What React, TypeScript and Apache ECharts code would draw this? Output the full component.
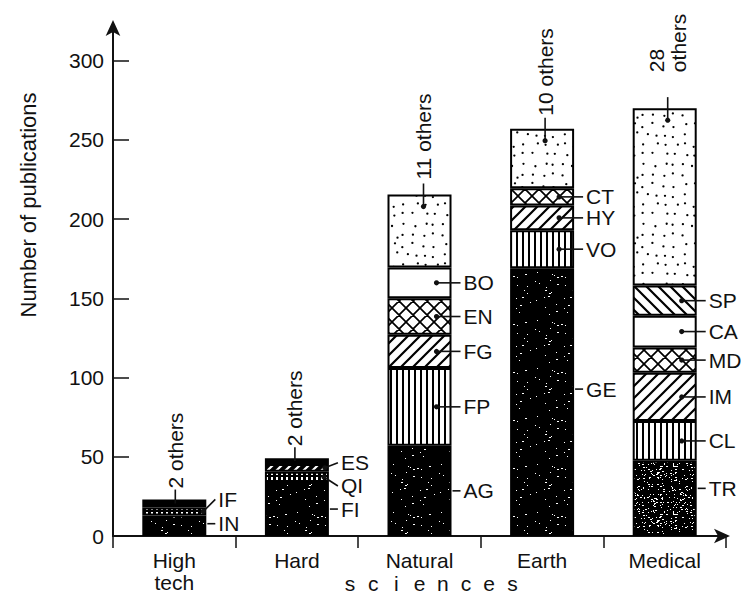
import React, { useEffect, useRef } from 'react';
import * as echarts from 'echarts';

// ---------- data ----------
const categories = ['High\ntech', 'Hard', 'Natural', 'Earth', 'Medical'];
const yTicks = [0, 50, 100, 150, 200, 250, 300];

const highTechCodes = ['IN', 'IF', '2 others'];
const highTechValues = [13, 5, 5];
const hardCodes = ['FI', 'QI', 'ES', '2 others'];
const hardValues = [34, 6.5, 5, 3.5];
const naturalCodes = ['AG', 'FP', 'FG', 'EN', 'BO', '11 others'];
const naturalValues = [57, 49, 21, 23, 19.5, 46];
const earthCodes = ['GE', 'VO', 'HY', 'CT', '10 others'];
const earthValues = [169, 24, 15.5, 11, 37.5];
const medicalCodes = ['TR', 'CL', 'IM', 'MD', 'CA', 'SP', '28\nothers'];
const medicalValues = [47.5, 25, 30.5, 16, 20, 19, 112];

const xAxisTitle = 'sciences';
const yAxisTitle = 'Number of publications';

// ---------- style / layout ----------
const FONT = '"Liberation Sans", Arial, sans-serif';
const INK = '#111';
const BAR_W = 64;
const PATTERN_OF: Record<string, string> = {
  IN: 'stipple', FI: 'stipple', AG: 'stipple', GE: 'stipple', TR: 'stippleLight',
  IF: 'vertDark', QI: 'vertDark', ES: 'diagDark',
  FP: 'vert', VO: 'vert', CL: 'vert',
  FG: 'diag', HY: 'diag', IM: 'diag',
  EN: 'cross', CT: 'cross', MD: 'cross',
  BO: 'white', CA: 'white', SP: 'back',
};
const LABEL_DY: Record<string, number> = { IF: -12, IN: -2, ES: -5, QI: 9, GE: -13, TR: -10 };
const DOT_INSET: Record<string, number> = { IF: 3, QI: 5, ES: 4 };
const TOP_GAP = [11, 12, 15, 13, 36];
const TOP_DX = [1, -2, 4, 3, 3];

function lcg(seed: number) {
  let s = seed;
  return () => {
    s = (s * 1664525 + 1013904223) % 4294967296;
    return s / 4294967296;
  };
}

function tile(w: number, h: number, draw: (ctx: CanvasRenderingContext2D) => void): any {
  const c = document.createElement('canvas');
  c.width = w;
  c.height = h;
  const ctx = c.getContext('2d') as CanvasRenderingContext2D;
  draw(ctx);
  return { image: c.toDataURL(), repeat: 'repeat', imageWidth: w, imageHeight: h };
}

function makePatterns(): Record<string, any> {
  const stipple = (seed: number, count: number) =>
    tile(48, 48, (ctx) => {
      ctx.fillStyle = '#000';
      ctx.fillRect(0, 0, 48, 48);
      ctx.fillStyle = '#fff';
      const r = lcg(seed);
      for (let k = 0; k < count; k++) {
        const x = Math.floor(r() * 48);
        const y = Math.floor(r() * 48);
        ctx.fillRect(x, y, r() < 0.3 ? 2 : 1, 1);
      }
    });
  const lines = (w: number, bg: string, fg: string, lw: number, dir: number) =>
    tile(w, w, (ctx) => {
      ctx.fillStyle = bg;
      ctx.fillRect(0, 0, w, w);
      ctx.strokeStyle = fg;
      ctx.lineWidth = lw;
      ctx.beginPath();
      for (const o of [-w, 0, w]) {
        if (dir > 0) {
          ctx.moveTo(o - 2, w + 2);
          ctx.lineTo(o + w + 2, -2);
        } else {
          ctx.moveTo(o - 2, -2);
          ctx.lineTo(o + w + 2, w + 2);
        }
      }
      ctx.stroke();
    });
  return {
    white: '#ffffff',
    stipple: stipple(7, 32),
    stippleLight: stipple(11, 200),
    vert: tile(6, 6, (ctx) => {
      ctx.fillStyle = '#fff';
      ctx.fillRect(0, 0, 6, 6);
      ctx.fillStyle = '#000';
      ctx.fillRect(0, 0, 2, 6);
    }),
    vertDark: tile(5, 7, (ctx) => {
      ctx.fillStyle = '#000';
      ctx.fillRect(0, 0, 5, 7);
      ctx.fillStyle = '#fff';
      ctx.fillRect(1, 1, 2, 5);
    }),
    diag: lines(12, '#fff', '#000', 2.2, 1),
    back: lines(12, '#fff', '#000', 2.2, -1),
    diagDark: lines(9, '#000', '#fff', 2.2, 1),
    cross: tile(14, 14, (ctx) => {
      ctx.fillStyle = '#fff';
      ctx.fillRect(0, 0, 14, 14);
      ctx.strokeStyle = '#000';
      ctx.lineWidth = 1.7;
      ctx.beginPath();
      for (const o of [-14, 0, 14]) {
        ctx.moveTo(o - 2, 16);
        ctx.lineTo(o + 16, -2);
        ctx.moveTo(o - 2, -2);
        ctx.lineTo(o + 16, 16);
      }
      ctx.stroke();
    }),
    dashDark: tile(9, 7, (ctx) => {
      ctx.fillStyle = '#000';
      ctx.fillRect(0, 0, 9, 7);
      ctx.fillStyle = '#fff';
      ctx.fillRect(1, 2, 5, 2);
    }),
    dots: tile(60, 60, (ctx) => {
      ctx.fillStyle = '#fff';
      ctx.fillRect(0, 0, 60, 60);
      ctx.fillStyle = '#000';
      const r = lcg(5);
      // jittered grid: even but irregular stipple
      for (let gy = 0; gy < 6; gy++) {
        for (let gx = 0; gx < 6; gx++) {
          const x = gx * 10 + 2 + r() * 6;
          const y = gy * 10 + 2 + r() * 6;
          ctx.beginPath();
          ctx.arc(x, y, 1.15, 0, Math.PI * 2);
          ctx.fill();
        }
      }
    }),
  };
}

export default function App() {
  const ref = useRef<HTMLDivElement>(null);

  useEffect(() => {
    document.body.style.margin = '0';
    if (!ref.current) return;
    const chart = echarts.init(ref.current, undefined, { renderer: 'svg' });
    const P = makePatterns();

    const groups = [
      { codes: highTechCodes, values: highTechValues },
      { codes: hardCodes, values: hardValues },
      { codes: naturalCodes, values: naturalValues },
      { codes: earthCodes, values: earthValues },
      { codes: medicalCodes, values: medicalValues },
    ];
    const maxLayers = Math.max(...groups.map((g) => g.values.length));

    const patternFor = (code: string, cat: number) => {
      if (code.indexOf('others') >= 0) return cat < 2 ? P.dashDark : P.dots;
      return P[PATTERN_OF[code]] || '#fff';
    };

    const barSeries: any[] = [];
    for (let j = 0; j < maxLayers; j++) {
      barSeries.push({
        type: 'bar',
        stack: 'total',
        barWidth: BAR_W,
        itemStyle: { borderColor: '#000', borderWidth: 2 },
        data: groups.map((g, i) =>
          j < g.values.length
            ? { value: g.values[j], itemStyle: { color: patternFor(g.codes[j], i), borderColor: '#000', borderWidth: 2 } }
            : '-'
        ),
      });
    }

    const sideItems: any[] = [];
    const topItems: any[] = [];
    groups.forEach((g, i) => {
      let bottom = 0;
      g.values.forEach((v, j) => {
        const code = g.codes[j];
        if (j < g.values.length - 1) {
          sideItems.push({ cat: i, mid: bottom + v / 2, code, solid: PATTERN_OF[code].indexOf('stipple') === 0 });
        } else {
          topItems.push({ cat: i, total: bottom + v, last: v, code });
        }
        bottom += v;
      });
    });

    const textStyle = (text: string, align: string) => ({
      text,
      fontSize: 21,
      fontFamily: FONT,
      fill: INK,
      align,
      verticalAlign: 'middle',
      lineHeight: 22,
    });

    const sideSeries = {
      type: 'custom',
      coordinateSystem: 'cartesian2d',
      clip: false,
      z: 5,
      silent: true,
      data: sideItems.map((it) => [it.cat, it.mid]),
      renderItem: (params: any, api: any) => {
        const it = sideItems[params.dataIndex];
        const p = api.coord([it.cat, it.mid]);
        const xr = p[0] + BAR_W / 2;
        const ly = p[1] + (LABEL_DY[it.code] || 0);
        const children: any[] = [];
        if (it.solid) {
          children.push({ type: 'line', shape: { x1: xr + 1, y1: ly, x2: xr + 9, y2: ly }, style: { stroke: INK, lineWidth: 1.6 } });
        } else {
          const dx = xr - (DOT_INSET[it.code] != null ? DOT_INSET[it.code] : 15);
          children.push({ type: 'line', shape: { x1: dx, y1: p[1], x2: xr + 9, y2: ly }, style: { stroke: INK, lineWidth: 1.6 } });
          children.push({ type: 'circle', shape: { cx: dx, cy: p[1], r: 2.6 }, style: { fill: INK } });
        }
        children.push({ type: 'text', x: xr + 12, y: ly, style: textStyle(it.code, 'left') });
        return { type: 'group', children };
      },
    };

    const topSeries = {
      type: 'custom',
      coordinateSystem: 'cartesian2d',
      clip: false,
      z: 5,
      silent: true,
      data: topItems.map((it) => [it.cat, it.total]),
      renderItem: (params: any, api: any) => {
        const it = topItems[params.dataIndex];
        const pt = api.coord([it.cat, it.total]);
        const pb = api.coord([it.cat, it.total - it.last]);
        const segPx = pb[1] - pt[1];
        const x = pt[0] + TOP_DX[it.cat];
        const gap = TOP_GAP[it.cat];
        const dotY = segPx > 16 ? pt[1] + 12 : pt[1] + segPx / 2;
        const lineTop = pt[1] - Math.min(gap - 1, 11);
        const children: any[] = [
          { type: 'line', shape: { x1: x, y1: dotY, x2: x, y2: lineTop }, style: { stroke: INK, lineWidth: 1.6 } },
          { type: 'text', x, y: pt[1] - gap, rotation: Math.PI / 2, style: textStyle(it.code, 'left') },
        ];
        if (segPx > 16) children.push({ type: 'circle', shape: { cx: x, cy: dotY, r: 2.6 }, style: { fill: INK } });
        return { type: 'group', children };
      },
    };

    const letters = xAxisTitle.split('');
    const graphic: any[] = [
      {
        type: 'text',
        x: 28,
        y: 205,
        rotation: Math.PI / 2,
        style: { text: yAxisTitle, fontSize: 22, fontFamily: FONT, fill: INK, align: 'center', verticalAlign: 'middle' },
      },
      ...letters.map((ch, k) => ({
        type: 'text',
        x: 350 + k * 23.2,
        y: 583,
        style: { text: ch, fontSize: 21, fontFamily: FONT, fill: INK, align: 'center', verticalAlign: 'middle' },
      })),
    ];

    chart.setOption({
      animation: false,
      backgroundColor: '#ffffff',
      grid: { left: 113, right: 15, top: 28.9, bottom: 55.3, containLabel: false },
      xAxis: {
        type: 'category',
        data: categories,
        axisLine: {
          show: true,
          lineStyle: { color: INK, width: 2 },
          symbol: ['none', 'arrow'],
          symbolSize: [11, 16],
          symbolOffset: [0, 4],
        },
        axisTick: { show: true, length: 12, interval: 0, lineStyle: { color: INK, width: 1.5 } },
        axisLabel: { interval: 0, fontSize: 21, lineHeight: 22, margin: 13, color: INK, fontFamily: FONT },
      },
      yAxis: {
        type: 'value',
        min: 0,
        max: 320,
        axisLine: {
          show: true,
          lineStyle: { color: INK, width: 2 },
          symbol: ['none', 'arrow'],
          symbolSize: [11, 16],
          symbolOffset: [0, 9],
        },
        axisTick: { show: true, inside: true, length: 16, lineStyle: { color: INK, width: 1.5 }, customValues: yTicks },
        axisLabel: { customValues: yTicks, fontSize: 21, color: INK, margin: 9, fontFamily: FONT },
        splitLine: { show: false },
      },
      graphic,
      series: [...barSeries, sideSeries, topSeries],
    });

    return () => chart.dispose();
  }, []);

  return <div ref={ref} style={{ width: 741, height: 593 }} />;
}
